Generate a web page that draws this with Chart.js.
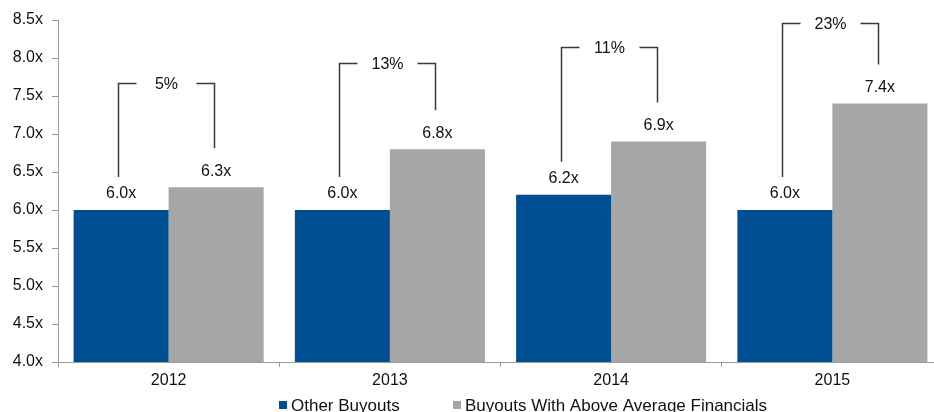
<!DOCTYPE html>
<html>
<head>
<meta charset="utf-8">
<title>Buyout multiples</title>
<script src="https://cdn.jsdelivr.net/npm/chart.js@4.4.1/dist/chart.umd.min.js"></script>
<style>
  html, body { margin: 0; padding: 0; background: #fff; overflow: hidden; }
  #wrap { width: 950px; height: 412px; }
</style>
</head>
<body>
<div id="wrap"><canvas id="chart" width="950" height="412"></canvas></div>
<script>
// Purchase price multiples by year
const years = ['2012', '2013', '2014', '2015'];
const otherBuyouts = [6.0, 6.0, 6.2, 6.0];
const aboveAverageBuyouts = [6.3, 6.8, 6.9, 7.4];
const seriesNames = ['Other Buyouts', 'Buyouts With Above Average Financials'];
const yAxisMin = 4.0;
const yAxisMax = 8.5;
const yAxisStep = 0.5;
// Height (in multiple units) of each premium bracket's top bar
const bracketLevels = [7.67, 7.93, 8.14, 8.46];

const BLUE = '#004F92';
const GREY = '#A6A6A6';
const AXIS = '#9A9A9A';
const FONT = '"Liberation Sans", Arial, sans-serif';

const fmtMultiple = v => v.toFixed(1) + 'x';

// Value labels above bars plus the premium brackets between each pair
const annotations = {
  id: 'annotations',
  afterDatasetsDraw(chart) {
    const ctx = chart.ctx;
    const y = chart.scales.y;
    const base = chart.getDatasetMeta(0).data;
    const prem = chart.getDatasetMeta(1).data;
    ctx.save();
    ctx.font = '16px ' + FONT;
    ctx.fillStyle = '#111';
    ctx.textAlign = 'center';
    ctx.textBaseline = 'middle';
    chart.data.datasets.forEach((ds, di) => {
      chart.getDatasetMeta(di).data.forEach((bar, i) => {
        ctx.fillText(fmtMultiple(ds.data[i]), bar.x, bar.y - 16);
      });
    });

    ctx.strokeStyle = '#3A3A3A';
    ctx.lineWidth = 1.5;
    years.forEach((yr, i) => {
      const lx = Math.round(base[i].x) - 2.5;
      const rx = Math.round(prem[i].x) - 1.5;
      const top = Math.round(y.getPixelForValue(bracketLevels[i])) + 0.5;
      const lBottom = base[i].y - 33;
      const rBottom = prem[i].y - 39;
      const mid = (lx + rx) / 2;
      const gap = 30;
      ctx.beginPath();
      ctx.moveTo(lx, lBottom);
      ctx.lineTo(lx, top);
      ctx.lineTo(mid - gap, top);
      ctx.moveTo(mid + gap, top);
      ctx.lineTo(rx, top);
      ctx.lineTo(rx, rBottom);
      ctx.stroke();
      const pct = Math.round((aboveAverageBuyouts[i] / otherBuyouts[i] - 1) * 100) + '%';
      ctx.fillText(pct, mid, top + 1);
    });
    ctx.restore();
  },
  afterDraw(chart) {
    // Legend along the bottom edge
    const ctx = chart.ctx;
    ctx.save();
    ctx.font = '17px ' + FONT;
    ctx.textAlign = 'left';
    ctx.textBaseline = 'middle';
    const starts = [279, 453];
    chart.data.datasets.forEach((ds, i) => {
      const x = starts[i];
      ctx.fillStyle = ds.backgroundColor;
      ctx.fillRect(x, 401, 8, 8);
      ctx.fillStyle = '#111';
      ctx.fillText(ds.label, x + 12, 406);
    });
    ctx.restore();
  }
};

new Chart(document.getElementById('chart'), {
  type: 'bar',
  data: {
    labels: years,
    datasets: [
      { label: seriesNames[0], data: otherBuyouts, backgroundColor: BLUE },
      { label: seriesNames[1], data: aboveAverageBuyouts, backgroundColor: GREY }
    ]
  },
  options: {
    responsive: false,
    animation: false,
    events: [],
    layout: { padding: { top: 20, right: 7, left: 0, bottom: 0 } },
    datasets: { bar: { categoryPercentage: 0.859, barPercentage: 1.0, borderWidth: 0 } },
    plugins: { legend: { display: false }, tooltip: { enabled: false } },
    scales: {
      x: {
        offset: true,
        grid: { offset: true, drawOnChartArea: false, drawTicks: true, tickLength: 5, color: AXIS, lineWidth: 1 },
        border: { color: AXIS, width: 1 },
        ticks: { color: '#111', font: { family: FONT, size: 16 }, padding: 4, maxRotation: 0 },
        afterFit(s) { s.height = 50; }
      },
      y: {
        min: yAxisMin,
        max: yAxisMax,
        grid: { drawOnChartArea: false, drawTicks: true, tickLength: 6, color: AXIS, lineWidth: 1 },
        border: { color: AXIS, width: 1 },
        ticks: {
          stepSize: yAxisStep,
          color: '#111',
          font: { family: FONT, size: 16 },
          padding: 9,
          callback: v => fmtMultiple(v)
        },
        afterFit(s) { s.width = 58; }
      }
    }
  },
  plugins: [annotations]
});
</script>
</body>
</html>
